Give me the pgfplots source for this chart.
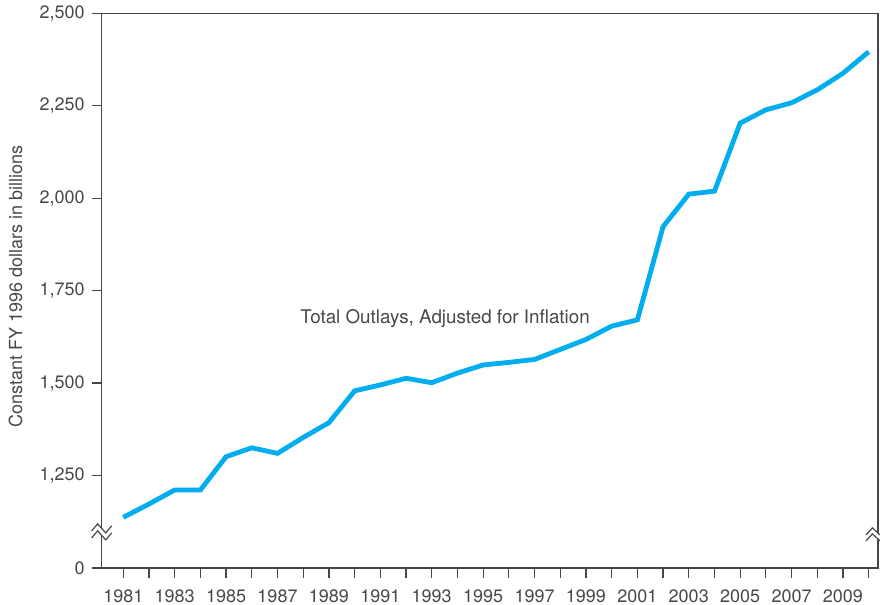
\documentclass[border=0pt]{standalone}
\usepackage{fontspec}
\setmainfont{TeX Gyre Heros}
\usepackage{pgfplots}
\pgfplotsset{compat=1.18}
\usetikzlibrary{calc}
\definecolor{linecyan}{RGB}{0,174,239}
\definecolor{axgray}{RGB}{70,70,70}
\definecolor{txtgray}{RGB}{72,72,72}
\pgfplotstableread{
year value
1981 1137
1982 1173
1983 1211
1984 1211
1985 1301
1986 1325
1987 1310
1988 1353
1989 1393
1990 1479
1991 1495
1992 1513
1993 1501
1994 1527
1995 1549
1996 1556
1997 1564
1998 1591
1999 1618
2000 1654
2001 1671
2002 1923
2003 2011
2004 2019
2005 2203
2006 2239
2007 2258
2008 2293
2009 2338
2010 2396
}\outlays
\begin{document}
\fontsize{9}{11}\selectfont
\begin{tikzpicture}
\begin{axis}[
  name=ax,
  scale only axis,
  width=388.15pt, height=277.35pt,
  xmin=1980.16, xmax=2010.36,
  ymin=1000, ymax=2500,
  clip=false,
  axis line style={axgray, line width=0.6pt},
  every tick/.style={axgray, line width=0.6pt},
  tick align=outside,
  major tick length=4.8pt,
  xtick pos=left, ytick pos=left,
  xtick={1981,...,2010},
  xticklabels={1981,,1983,,1985,,1987,,1989,,1991,,1993,,1995,,1997,,1999,,2001,,2003,,2005,,2007,,2009,},
  ytick={1000,1250,1500,1750,2000,2250,2500},
  yticklabels={0,{1,250},{1,500},{1,750},{2,000},{2,250},{2,500}},
  tick label style={font=\fontsize{9}{11}\selectfont, text=txtgray},
  /pgf/number format/assume math mode=true,
  xticklabel style={yshift=-3pt},
  yticklabel style={xshift=-0.5pt},
  ylabel={Constant FY 1996 dollars in billions},
  every axis y label/.style={at={(rel axis cs:0,0.5075)}, anchor=center, xshift=-43.1pt, rotate=90, font=\fontsize{9}{11}\selectfont, text=txtgray},
]
\addplot[linecyan, line width=2.4pt, line join=miter, mark=none] table[x=year, y=value] {\outlays};
\node[anchor=base, text=txtgray, font=\fontsize{9.4}{11}\selectfont] at (axis cs:1993.52,1662) {Total Outlays, Adjusted for Inflation};
\end{axis}
% axis breaks (decoration only)
\begin{scope}[shift={($(ax.south west)!0.0633!(ax.north west)$)}]
\fill[white] (-5pt,1pt) -- ++(3pt,3.5pt) -- ++(4pt,-4.5pt) -- ++(3pt,3.5pt) -- ++(0,-3.5pt) -- ++(-3pt,-3.5pt) -- ++(-4pt,4.5pt) -- ++(-3pt,-3.5pt) -- cycle;
\draw[axgray, line width=0.6pt] (-5pt,1pt) -- ++(3pt,3.5pt) -- ++(4pt,-4.5pt) -- ++(3pt,3.5pt);
\draw[axgray, line width=0.6pt] (-5pt,-2.5pt) -- ++(3pt,3.5pt) -- ++(4pt,-4.5pt) -- ++(3pt,3.5pt);
\end{scope}
\begin{scope}[shift={($(ax.south east)!0.0633!(ax.north east)$)}]
\fill[white] (-6pt,-1pt) -- ++(3.2pt,3.5pt) -- ++(3.8pt,-3.5pt) -- ++(0,-3pt) -- ++(-3.8pt,3.5pt) -- ++(-3.2pt,-3.5pt) -- cycle;
\draw[axgray, line width=0.6pt] (-6pt,-1pt) -- ++(3.2pt,3.5pt) -- ++(3.8pt,-3.5pt);
\draw[axgray, line width=0.6pt] (-6pt,-4pt) -- ++(3.2pt,3.5pt) -- ++(3.8pt,-3.5pt);
\end{scope}
\pgfresetboundingbox
\path (ax.south west) ++(-50.85pt,-18.5pt) rectangle ++(440pt,302.5pt);
\end{tikzpicture}
\end{document}
